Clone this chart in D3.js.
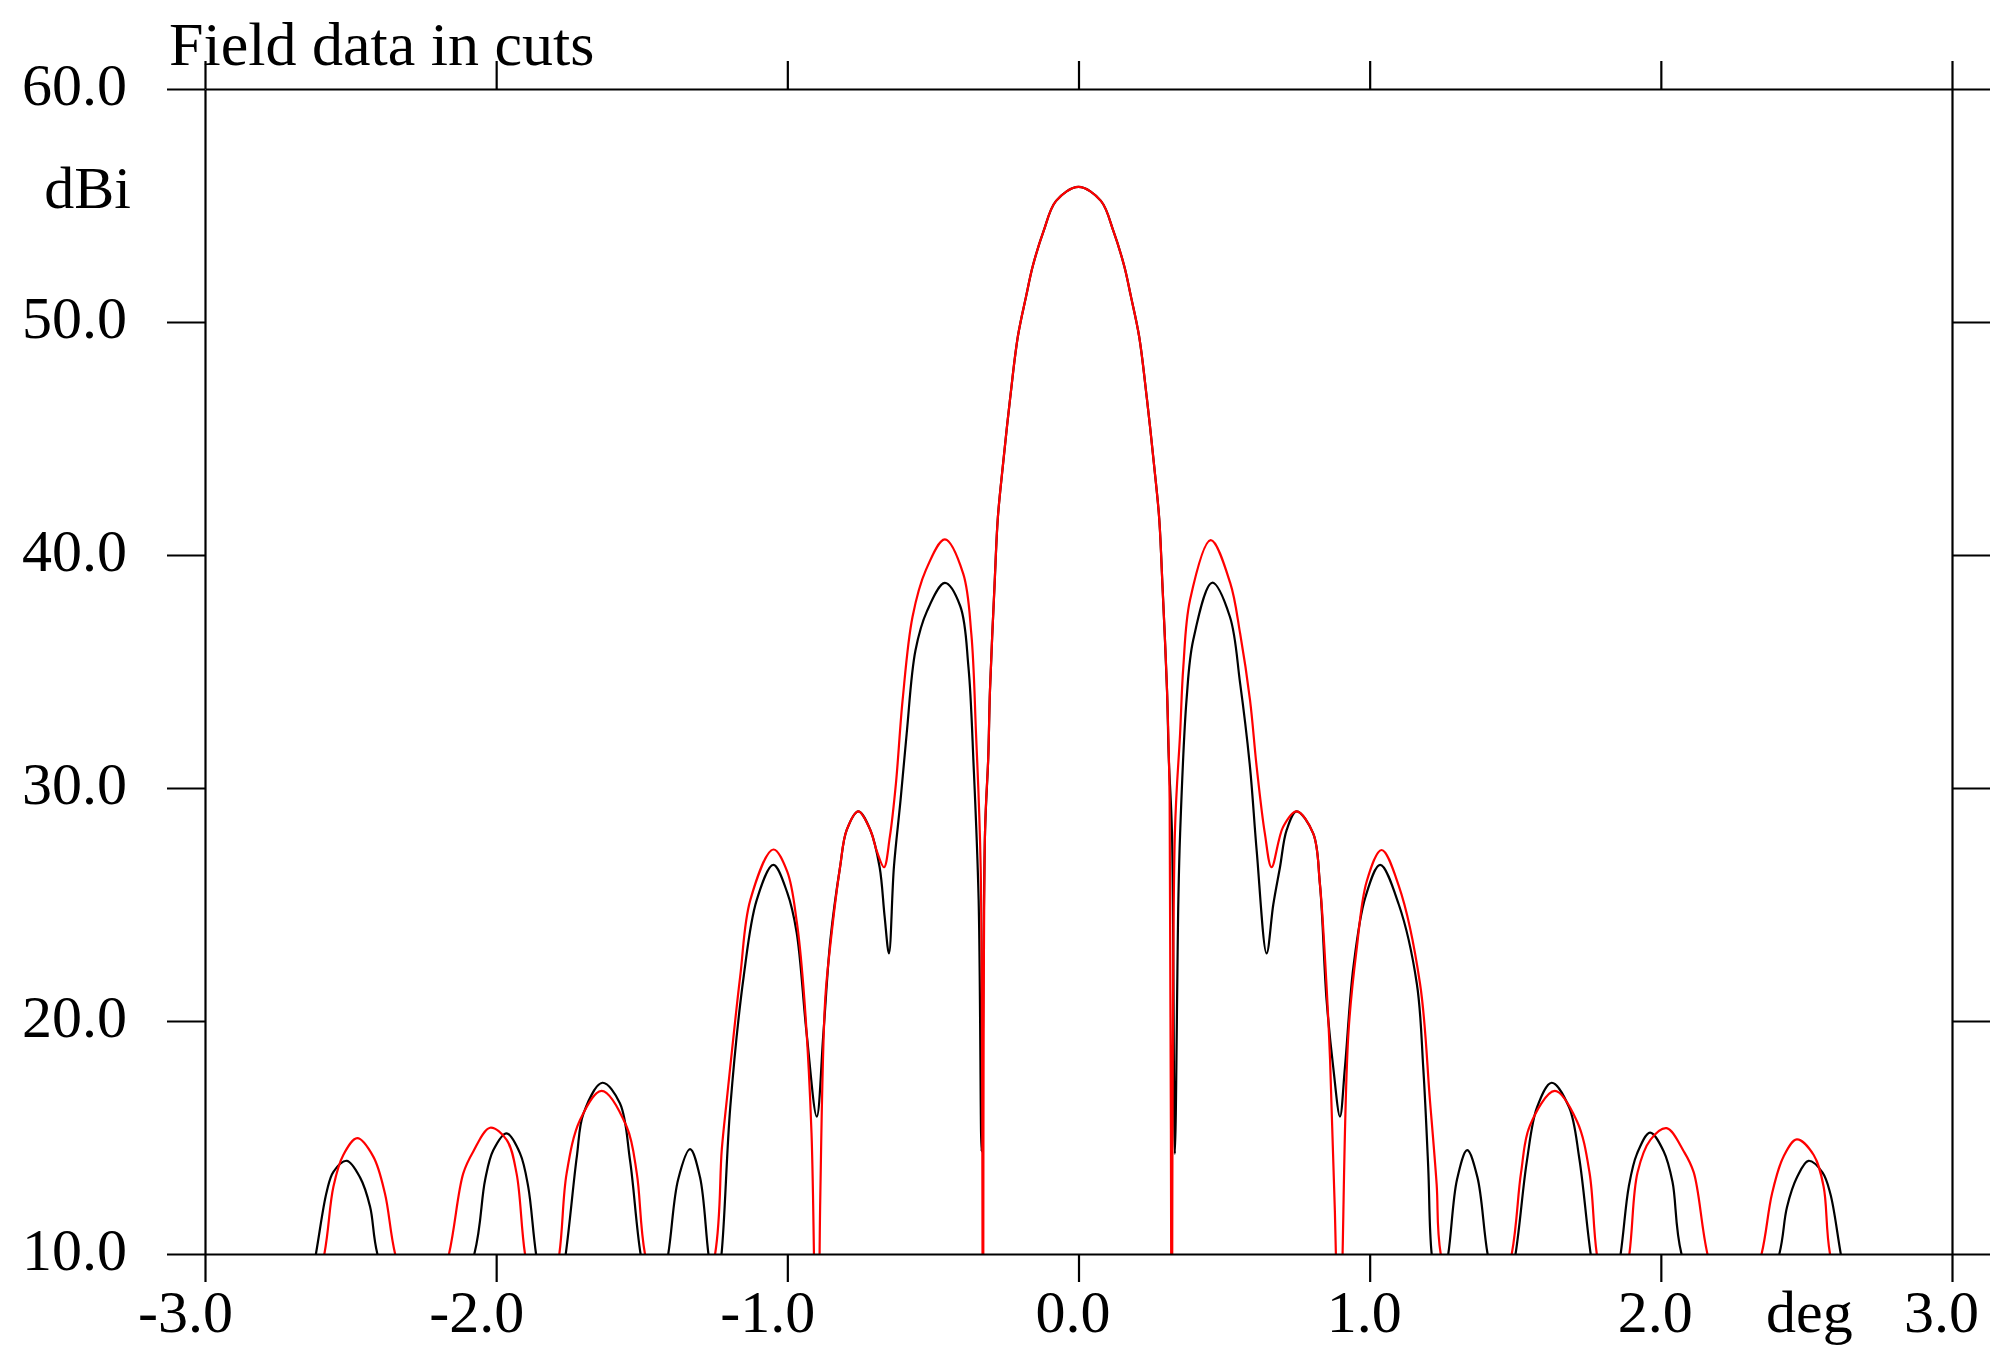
<!DOCTYPE html>
<html>
<head>
<meta charset="utf-8">
<script src="https://cdn.jsdelivr.net/npm/d3@7"></script>
<style>
  body { margin: 0; background: #fff; }
  text { font-family: "Liberation Serif", "Times New Roman", serif; }
</style>
</head>
<body>
<script>
// angles in deg, gain in dBi (values under 10 fall below the plot floor)
const blackDeg = [-3.0,-2.70,-2.619,-2.582,-2.559,-2.513,-2.468,-2.433,-2.408,-2.25,
  -2.075,-2.038,-2.010,-1.964,-1.918,-1.890,-1.863,-1.81,
  -1.761,-1.723,-1.700,-1.635,-1.575,-1.540,-1.504,-1.455,
  -1.409,-1.375,-1.334,-1.300,-1.271,-1.248,
  -1.226,-1.196,-1.150,-1.105,-1.048,-1.000,-0.968,-0.934,-0.899,-0.876,-0.852,
  -0.819,-0.796,-0.756,-0.715,-0.683,-0.666,-0.651,-0.634,-0.611,-0.590,-0.560,-0.520,
  -0.459,-0.406,-0.378,-0.360,-0.343,-0.333,-0.321,-0.310,-0.304,-0.288,-0.277,-0.260,
  -0.235,-0.208,-0.180,-0.157,-0.120,-0.077,0,
  0.077,0.120,0.157,0.180,0.208,0.235,0.260,0.277,0.288,0.304,0.310,0.321,0.331,
  0.343,0.349,0.371,0.394,0.459,0.520,0.555,0.589,0.612,0.646,0.669,0.692,0.715,
  0.749,0.806,0.829,0.852,0.875,0.898,0.915,0.944,0.985,1.036,1.100,1.162,1.184,
  1.201,1.213,1.24,1.270,1.300,1.335,1.370,1.405,1.455,
  1.501,1.540,1.575,1.625,1.685,1.720,1.759,1.81,
  1.862,1.890,1.918,1.963,2.010,2.040,2.071,2.25,
  2.407,2.433,2.468,2.507,2.555,2.582,2.618,2.70,3.0];
const blackDbi = [2,4,10,12.67,13.53,14.0,13.3,12.03,10,4,
  10,13.18,14.45,15.18,14.32,12.89,10,6,
  10,14.18,16.04,17.35,16.47,14.0,10,7,
  10,13.2,14.5,13.3,10,8,
  10,16.3,21.9,25.2,26.7,25.5,23.8,19.5,15.9,19.5,23.5,
  26.6,28.2,29.0,28.2,26.6,24.5,22.9,26.6,29.5,32.35,35.9,37.6,
  38.8,37.8,35.2,30.9,25.2,14.4,28.1,31.3,34.2,38.8,41.6,43.8,
  46.7,49.4,51.1,52.4,53.9,55.2,55.8,
  55.2,53.9,52.4,51.1,49.4,46.7,43.8,41.6,38.8,34.2,31.3,28.1,14.3,
  25.2,28.05,33.78,36.35,38.81,37.35,34.5,30.9,27.3,22.9,25.0,26.6,28.2,
  29.0,28.05,25.9,20.9,18.0,15.9,18.0,22.3,25.3,26.7,25.0,21.6,18.0,
  13.75,10,8,10,13.2,14.46,13.3,10,7,
  10,14.0,16.3,17.35,16.3,14.1,10,6,
  10,12.9,14.3,15.21,14.4,13.1,10,4,
  10,12.0,13.3,14.0,13.5,12.6,10,4,2];

const redDeg = [-3.0,-2.70,-2.590,-2.559,-2.525,-2.477,-2.422,-2.382,-2.347,-2.25,
  -2.162,-2.113,-2.079,-2.021,-1.964,-1.930,-1.901,-1.84,
  -1.783,-1.758,-1.712,-1.638,-1.552,-1.517,-1.489,-1.37,
  -1.248,-1.225,-1.208,-1.162,-1.127,-1.048,-1.000,-0.968,-0.945,-0.917,-0.897,-0.887,
  -0.870,-0.852,-0.819,-0.796,-0.756,-0.715,-0.693,-0.668,-0.648,-0.627,-0.604,-0.570,
  -0.524,-0.459,-0.396,-0.368,-0.352,-0.336,-0.328,-0.321,-0.310,-0.304,-0.288,-0.277,
  -0.260,-0.235,-0.208,-0.180,-0.157,-0.120,-0.077,0,
  0.077,0.120,0.157,0.180,0.208,0.235,0.260,0.277,0.288,0.304,0.313,0.320,0.331,
  0.349,0.360,0.383,0.454,0.521,0.555,0.589,0.612,0.640,0.663,0.703,0.749,0.806,
  0.829,0.847,0.864,0.884,0.895,0.907,0.927,0.955,0.990,1.041,1.100,1.173,1.207,
  1.230,1.244,1.37,
  1.488,1.520,1.550,1.636,1.712,1.755,1.780,1.84,
  1.892,1.920,1.964,2.020,2.079,2.113,2.160,2.25,
  2.346,2.382,2.422,2.467,2.525,2.559,2.581,2.70,3.0];
const redDbi = [2,4,10,12.89,14.25,14.97,14.18,12.6,10,6,
  10,13.46,14.39,15.42,14.9,13.46,10,6,
  10,13.46,15.75,17.0,15.47,13.46,10,4,
  10,14.5,16.6,21.9,25.2,27.36,26.4,24.3,21.5,15.2,0,12.3,
  20.9,23.3,26.6,28.2,29.0,28.2,27.3,26.6,27.9,30.2,33.78,37.35,
  39.36,40.67,39.2,36.6,32.35,26.6,0,28.1,31.3,34.2,38.8,41.6,
  43.8,46.7,49.4,51.1,52.4,53.9,55.2,55.8,
  55.2,53.9,52.4,51.1,49.4,46.7,43.8,41.6,38.8,34.2,29.5,0,28.05,
  32.35,35.2,38.07,40.64,38.8,36.64,33.78,30.9,28.05,26.6,28.34,29.0,28.05,
  25.9,22.6,18.33,10,0,10,19.47,23.05,26.0,27.34,25.8,21.6,16.6,
  13.0,10,4,
  10,13.5,15.5,17.0,15.7,13.5,10,6,
  10,13.5,14.9,15.4,14.4,13.5,10,6,
  10,12.6,14.2,14.92,14.25,12.9,10,4,2];

const xTicks = [-3, -2, -1, 0, 1, 2, 3];
const yTicks = [10, 20, 30, 40, 50, 60];

const svg = d3.select('body').append('svg').attr('width', 2000).attr('height', 1355);

const x = d3.scaleLinear().domain([-3, 3]).range([205, 1952]);
const y = d3.scaleLinear().domain([10, 60]).range([1254, 89]);

svg.append('clipPath').attr('id', 'plotclip')
  .append('rect').attr('x', 205).attr('y', 89).attr('width', 1747).attr('height', 1165);

const line = d3.line().x(d => x(d[0])).y(d => y(d[1])).curve(d3.curveCatmullRom.alpha(0.5));
const plot = svg.append('g').attr('clip-path', 'url(#plotclip)');

plot.append('path').attr('d', line(d3.zip(blackDeg, blackDbi)))
  .attr('fill', 'none').attr('stroke', '#000').attr('stroke-width', 2.2);
plot.append('path').attr('d', line(d3.zip(redDeg, redDbi)))
  .attr('fill', 'none').attr('stroke', '#ff0000').attr('stroke-width', 2.2);

// frame with outward ticks on all four sides
const fmt = d => d.toFixed(1);
const bottomAxis = svg.append('g').attr('transform', 'translate(0,1254)')
  .call(d3.axisBottom(x).tickValues(xTicks).tickSize(28).tickSizeOuter(0).tickFormat(fmt));
const topAxis = svg.append('g').attr('transform', 'translate(0,89)')
  .call(d3.axisTop(x).tickValues(xTicks).tickSize(28).tickSizeOuter(0).tickFormat(''));
const leftAxis = svg.append('g').attr('transform', 'translate(205,0)')
  .call(d3.axisLeft(y).tickValues(yTicks).tickSize(38).tickSizeOuter(0).tickPadding(40).tickFormat(fmt));
const rightAxis = svg.append('g').attr('transform', 'translate(1952,0)')
  .call(d3.axisRight(y).tickValues(yTicks).tickSize(38).tickSizeOuter(0).tickFormat(''));

svg.selectAll('.domain, .tick line').attr('stroke', '#000').attr('stroke-width', 2.2);
svg.selectAll('.tick text').attr('fill', '#000')
  .style('font-family', '"Liberation Serif", serif').style('font-size', '60px');

bottomAxis.selectAll('.tick text')
  .attr('y', 78).attr('dy', 0)
  .attr('dx', d => d < 0 ? -20 : (d === 3 ? -11 : -6));
leftAxis.selectAll('.tick text').attr('dy', '0.25em');

svg.append('text').text('Field data in cuts').attr('x', 169).attr('y', 65)
  .style('font-size', '62px').attr('fill', '#000');
svg.append('text').text('dBi').attr('x', 131).attr('y', 208)
  .attr('text-anchor', 'end').style('font-size', '60px').attr('fill', '#000');
svg.append('text').text('deg').attr('x', 1766).attr('y', 1332)
  .style('font-size', '60px').attr('fill', '#000');
</script>
</body>
</html>
